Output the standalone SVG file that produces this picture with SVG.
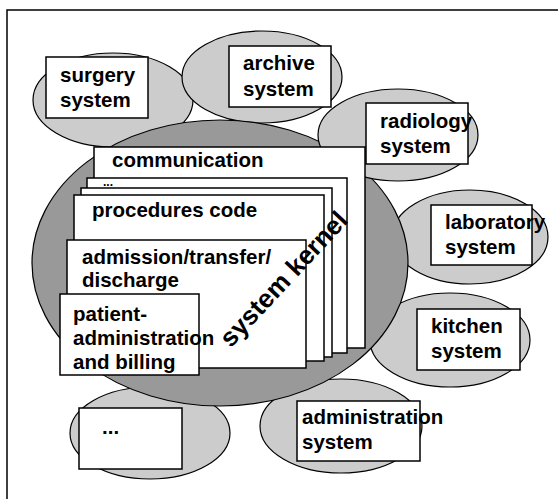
<svg xmlns="http://www.w3.org/2000/svg" width="558" height="499" viewBox="0 0 558 499">
<style>
.lt{fill:#cccccc;stroke:#000;stroke-width:1.2}
.dk{fill:#999999;stroke:#000;stroke-width:1.2}
.bx{fill:#ffffff;stroke:#000;stroke-width:1.5}
.t{font-family:"Liberation Sans",Arial,sans-serif;font-weight:bold;font-size:20.5px;fill:#000}
</style>
<rect x="7" y="10" width="600" height="600" fill="#fff" stroke="#000" stroke-width="1.5"/>
<g id="laboratory-bg"><ellipse class="lt" cx="470" cy="237" rx="78" ry="47"/></g>
<g id="kitchen-bg"><ellipse class="lt" cx="450" cy="340" rx="80" ry="47"/></g>
<g id="administration-bg"><ellipse class="lt" cx="341" cy="426" rx="81" ry="47"/></g>
<g id="dots-bg"><ellipse class="lt" cx="150" cy="433" rx="80" ry="46"/></g>
<g id="surgery-bg"><ellipse class="lt" cx="113" cy="100" rx="80" ry="47"/></g>
<g id="archive-bg"><ellipse class="lt" cx="262" cy="77" rx="80" ry="46"/></g>
<g id="kernel">
<ellipse class="dk" cx="220" cy="263" rx="188" ry="143"/>
</g>
<g id="radiology">
<ellipse class="lt" cx="398" cy="135" rx="80" ry="46"/>
<rect class="bx" x="366" y="103" width="102" height="61"/>
<text class="t" x="380" y="128">radiology</text>
<text class="t" x="380" y="153">system</text>
</g>
<g id="surgery">
<rect class="bx" x="46" y="57" width="102" height="61"/>
<text class="t" x="60" y="82">surgery</text>
<text class="t" x="60" y="107">system</text>
</g>
<g id="archive">
<rect class="bx" x="229" y="46" width="102" height="61"/>
<text class="t" x="243" y="70">archive</text>
<text class="t" x="243" y="96">system</text>
</g>
<g id="laboratory">
<rect class="bx" x="431" y="205" width="101" height="60"/>
<text class="t" x="445" y="229">laboratory</text>
<text class="t" x="445" y="254">system</text>
</g>
<g id="kitchen">
<rect class="bx" x="417" y="309" width="103" height="61"/>
<text class="t" x="431" y="333">kitchen</text>
<text class="t" x="431" y="358">system</text>
</g>
<g id="administration">
<rect class="bx" x="297" y="401" width="123" height="60"/>
<text class="t" x="302" y="424">administration</text>
<text class="t" x="302" y="449">system</text>
</g>
<g id="dots">
<rect class="bx" x="79" y="408" width="103" height="61"/>
<text class="t" x="102" y="434">...</text>
</g>
<g id="card-communication">
<rect class="bx" x="94" y="147" width="271" height="201"/>
<text class="t" x="112" y="167">communication</text>
</g>
<g id="card-more">
<rect class="bx" x="87" y="178" width="260" height="175"/>
<text class="t" x="103" y="186" style="font-size:12px">...</text>
</g>
<g id="card-blank">
<rect class="bx" x="81" y="188" width="251" height="169"/>
</g>
<g id="card-procedures">
<rect class="bx" x="74" y="195" width="250" height="166"/>
<text class="t" x="92" y="217">procedures code</text>
</g>
<g id="card-admission">
<rect class="bx" x="67" y="240" width="239" height="128"/>
<text class="t" x="82" y="264">admission/transfer/</text>
<text class="t" x="82" y="287">discharge</text>
</g>
<g id="card-patient">
<rect class="bx" x="60" y="294" width="139" height="81"/>
<text class="t" x="73" y="321">patient-</text>
<text class="t" x="73" y="345">administration</text>
<text class="t" x="73" y="369">and billing</text>
</g>
<g id="kernel-label">
<text class="t" x="290" y="285" text-anchor="middle" transform="rotate(-47 290 285)" style="font-size:26px">system kernel</text>
</g>
<g id="connectors"></g>
</svg>
